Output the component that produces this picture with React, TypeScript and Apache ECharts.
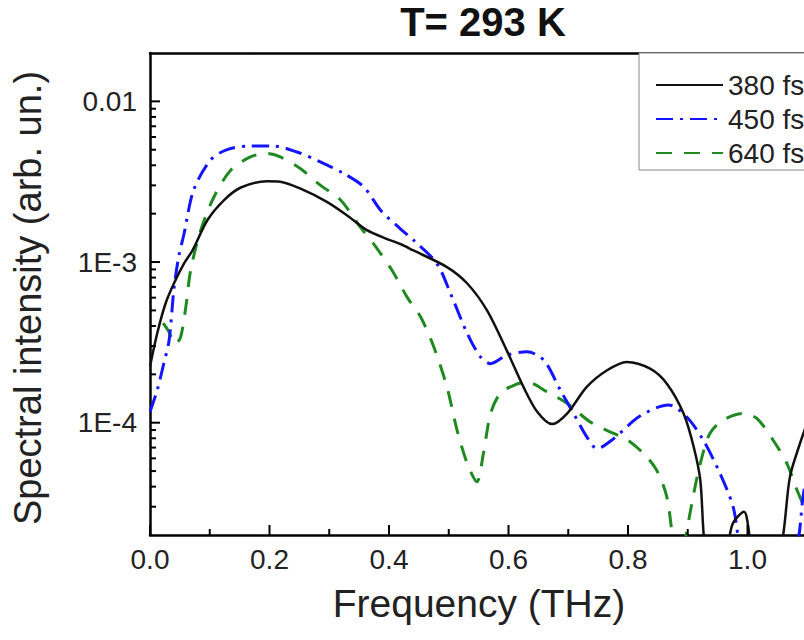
import React, { useEffect, useRef } from 'react';
import * as echarts from 'echarts';

const chartTitle = 'T= 293 K';
const xAxisName = 'Frequency (THz)';
const yAxisName = 'Spectral intensity (arb. un.)';
const seriesNames = ['380 fs', '450 fs', '640 fs'];

// 380 fs (black, solid)
const freq380 = [0.0, 0.012, 0.026, 0.04, 0.057, 0.071, 0.096, 0.124, 0.152, 0.196, 0.218, 0.252, 0.296, 0.33, 0.363, 0.397, 0.42, 0.441, 0.497, 0.531, 0.564, 0.597, 0.625, 0.648, 0.673, 0.698, 0.731, 0.765, 0.798, 0.837, 0.865, 0.893, 0.91, 0.921, 0.928, 0.945, 0.965, 0.975, 0.994, 1.004, 1.02, 1.055, 1.071, 1.088, 1.1];
const int380 = [2.24e-4, 3.59e-4, 5.52e-4, 7.35e-4, 9.8e-4, 1.18e-3, 1.82e-3, 2.43e-3, 2.91e-3, 3.18e-3, 3.16e-3, 2.86e-3, 2.37e-3, 1.95e-3, 1.58e-3, 1.39e-3, 1.29e-3, 1.18e-3, 9.3e-4, 7.35e-4, 5.0e-4, 2.82e-4, 1.67e-4, 1.17e-4, 9.8e-5, 1.14e-4, 1.67e-4, 2.12e-4, 2.39e-4, 2.17e-4, 1.75e-4, 1.14e-4, 7.06e-5, 4.39e-5, 1.78e-5, 8e-6, 1.5e-5, 2.34e-5, 2.79e-5, 1.9e-5, 8e-6, 1.6e-5, 4.6e-5, 7.45e-5, 1.0e-4];

// 450 fs (blue, dash-dot)
const freq450 = [0.0, 0.012, 0.023, 0.032, 0.04, 0.048, 0.057, 0.073, 0.101, 0.129, 0.168, 0.207, 0.246, 0.285, 0.324, 0.358, 0.386, 0.419, 0.441, 0.48, 0.503, 0.531, 0.553, 0.57, 0.597, 0.631, 0.659, 0.687, 0.709, 0.731, 0.748, 0.776, 0.82, 0.868, 0.898, 0.926, 0.954, 0.976, 0.99, 1.03, 1.08, 1.093, 1.1];
const int450 = [1.17e-4, 1.59e-4, 2.33e-4, 3.26e-4, 6.76e-4, 1.08e-3, 1.5e-3, 2.8e-3, 4.3e-3, 5.01e-3, 5.27e-3, 5.27e-3, 4.84e-3, 4.2e-3, 3.56e-3, 2.93e-3, 2.1e-3, 1.61e-3, 1.37e-3, 9.8e-4, 6.37e-4, 3.59e-4, 2.57e-4, 2.33e-4, 2.63e-4, 2.76e-4, 2.45e-4, 1.59e-4, 1.14e-4, 8.17e-5, 6.9e-5, 7.96e-5, 1.1e-4, 1.29e-4, 1.09e-4, 7.78e-5, 4.83e-5, 2.99e-5, 1.58e-5, 8e-6, 1.6e-5, 3.47e-5, 5e-5];

// 640 fs (green, dashed)
const freq640 = [0.022, 0.031, 0.042, 0.051, 0.06, 0.068, 0.085, 0.107, 0.135, 0.168, 0.196, 0.218, 0.252, 0.285, 0.319, 0.352, 0.374, 0.405, 0.43, 0.453, 0.475, 0.497, 0.514, 0.531, 0.547, 0.558, 0.57, 0.586, 0.609, 0.631, 0.664, 0.698, 0.737, 0.776, 0.798, 0.826, 0.848, 0.865, 0.875, 0.885, 0.896, 0.91, 0.921, 0.937, 0.96, 0.993, 1.016, 1.043, 1.066, 1.083, 1.095];
const int640 = [4.17e-4, 3.72e-4, 3.09e-4, 3.39e-4, 5.26e-4, 8.89e-4, 1.58e-3, 2.54e-3, 3.72e-3, 4.51e-3, 4.74e-3, 4.51e-3, 3.81e-3, 3.01e-3, 2.43e-3, 1.65e-3, 1.3e-3, 8.89e-4, 6.07e-4, 4.55e-4, 2.96e-4, 1.67e-4, 8.97e-5, 5.57e-5, 4.29e-5, 6.43e-5, 1.14e-4, 1.52e-4, 1.71e-4, 1.79e-4, 1.56e-4, 1.32e-4, 1.01e-4, 8.57e-5, 7.87e-5, 6.43e-5, 5.06e-5, 3.45e-5, 1.9e-5, 1.2e-5, 1.9e-5, 3.62e-5, 5.57e-5, 8.57e-5, 1.04e-4, 1.14e-4, 1.06e-4, 7.78e-5, 5.57e-5, 3.8e-5, 2.99e-5];

const xMin = 0;
const xMax = 1.2;
const xInterval = 0.2;
const xLastLabel = 1.0;
const xMajorTicks = [0, 0.2, 0.4, 0.6, 0.8, 1.0, 1.2];
const xMinorTicks = [0.1, 0.3, 0.5, 0.7, 0.9, 1.1];
const yMin = 2e-5;
const yMax = 0.02;
const yMajorTicks = [1e-4, 1e-3, 1e-2];
const yMinorMultipliers = [2, 3, 4, 5, 6, 7, 8, 9];
const yDecades = [1e-5, 1e-4, 1e-3];

const FONT = "'Liberation Sans', Arial, Helvetica, sans-serif";

function zip(xs: number[], ys: number[]) {
  return xs.map((x, i) => [x, ys[i]]);
}

export default function App() {
  const ref = useRef<HTMLDivElement>(null);

  useEffect(() => {
    if (!ref.current) return;
    const chart = echarts.init(ref.current, null, { renderer: 'svg' });

    const yMinorTicks: number[] = [];
    yDecades.forEach((d) =>
      yMinorMultipliers.forEach((m) => {
        const v = m * d;
        if (v > yMin * 1.01 && v < yMax * 0.99) yMinorTicks.push(v);
      })
    );

    // tick marks: [x, y, length, direction(0 = on x axis, 1 = on y axis)]
    const MAJOR = 10;
    const MINOR = 6;
    const tickData: number[][] = [
      ...xMajorTicks.map((v) => [v, yMin, MAJOR, 0]),
      ...xMinorTicks.map((v) => [v, yMin, MINOR, 0]),
      ...yMajorTicks.map((v) => [xMin, v, MAJOR, 1]),
      ...yMinorTicks.map((v) => [xMin, v, MINOR, 1]),
    ];

    const axisLineStyle = { color: '#000', width: 2.5 };

    const option: any = {
      animation: false,
      backgroundColor: '#fff',
      textStyle: { fontFamily: FONT },
      grid: {
        left: 150,
        top: 53,
        right: 13,
        bottom: 105,
      },
      graphic: [
        {
          type: 'text',
          x: 483,
          y: 22,
          style: {
            text: chartTitle,
            font: `bold 40px ${FONT}`,
            fill: '#111',
            textAlign: 'center',
            textVerticalAlign: 'middle',
          },
        },
        {
          type: 'text',
          x: 479,
          y: 603,
          style: {
            text: xAxisName,
            font: `39px ${FONT}`,
            fill: '#222',
            textAlign: 'center',
            textVerticalAlign: 'middle',
          },
        },
        {
          type: 'text',
          x: 28,
          y: 298,
          rotation: Math.PI / 2,
          style: {
            text: yAxisName,
            font: `38px ${FONT}`,
            fill: '#222',
            textAlign: 'center',
            textVerticalAlign: 'middle',
          },
        },
      ],
      legend: {
        orient: 'vertical',
        left: 639,
        top: 53,
        itemWidth: 67,
        itemHeight: 16,
        itemGap: 0,
        padding: [15, 14, 0, 16],
        borderColor: '#888',
        borderWidth: 1,
        backgroundColor: '#fff',
        selectedMode: false,
        data: seriesNames,
        itemStyle: { opacity: 0 },
        textStyle: {
          fontFamily: FONT,
          fontSize: 28,
          color: '#222',
          lineHeight: 34,
          height: 34,
        },
      },
      xAxis: [
        {
          type: 'value',
          min: xMin,
          max: xMax,
          interval: xInterval,
          position: 'bottom',
          axisLine: { show: true, onZero: false, lineStyle: axisLineStyle },
          axisTick: { show: false },
          minorTick: { show: false },
          splitLine: { show: false },
          minorSplitLine: { show: false },
          axisLabel: {
            fontFamily: FONT,
            fontSize: 28,
            color: '#222',
            margin: 10,
            formatter: (v: number) => (v > xLastLabel + 0.05 ? '' : v.toFixed(1)),
          },
        },
        {
          type: 'value',
          min: xMin,
          max: xMax,
          position: 'top',
          axisLine: { show: true, onZero: false, lineStyle: axisLineStyle },
          axisTick: { show: false },
          axisLabel: { show: false },
          splitLine: { show: false },
        },
      ],
      yAxis: [
        {
          type: 'log',
          logBase: 10,
          min: yMin,
          max: yMax,
          position: 'left',
          axisLine: { show: true, onZero: false, lineStyle: axisLineStyle },
          axisTick: { show: false },
          splitLine: { show: false },
          axisLabel: {
            fontFamily: FONT,
            fontSize: 28,
            color: '#222',
            margin: 13,
            showMinLabel: false,
            showMaxLabel: false,
            formatter: (v: number) => {
              const l = Math.log10(v);
              const e = Math.round(l);
              if (Math.abs(l - e) > 0.01) return '';
              return e === -2 ? '0.01' : '1E' + e;
            },
          },
        },
      ],
      series: [
        {
          name: seriesNames[0],
          type: 'line',
          data: zip(freq380, int380),
          symbol: 'none',
          smooth: 0.3,
          clip: true,
          lineStyle: { color: '#111', width: 2.5, type: 'solid' },
          itemStyle: { color: '#111' },
          z: 3,
        },
        {
          name: seriesNames[1],
          type: 'line',
          data: zip(freq450, int450),
          symbol: 'none',
          smooth: 0.3,
          clip: true,
          lineStyle: { color: '#1414ff', width: 3, type: [17, 7, 3, 7] },
          itemStyle: { color: '#1414ff' },
          z: 2,
        },
        {
          name: seriesNames[2],
          type: 'line',
          data: zip(freq640, int640),
          symbol: 'none',
          smooth: 0.3,
          clip: true,
          lineStyle: { color: '#1f8a1f', width: 3, type: [16, 12] },
          itemStyle: { color: '#1f8a1f' },
          z: 1,
        },
        {
          name: 'ticks',
          type: 'custom',
          silent: true,
          clip: false,
          z: 4,
          encode: { x: 0, y: 1 },
          data: tickData,
          renderItem: (params: any, api: any) => {
            const x = api.value(0);
            const y = api.value(1);
            const len = api.value(2);
            const dir = api.value(3);
            const p = api.coord([x, y]);
            const shape =
              dir === 0
                ? { x1: p[0], y1: p[1], x2: p[0], y2: p[1] - len }
                : { x1: p[0], y1: p[1], x2: p[0] + len, y2: p[1] };
            return {
              type: 'line',
              shape,
              style: { stroke: '#000', lineWidth: 2 },
            };
          },
        },
      ],
    };

    chart.setOption(option);
    return () => chart.dispose();
  }, []);

  return (
    <div
      style={{
        position: 'fixed',
        left: 0,
        top: 0,
        width: 804,
        height: 640,
        overflow: 'hidden',
        background: '#fff',
      }}
    >
      <div ref={ref} style={{ width: 880, height: 640 }} />
    </div>
  );
}
